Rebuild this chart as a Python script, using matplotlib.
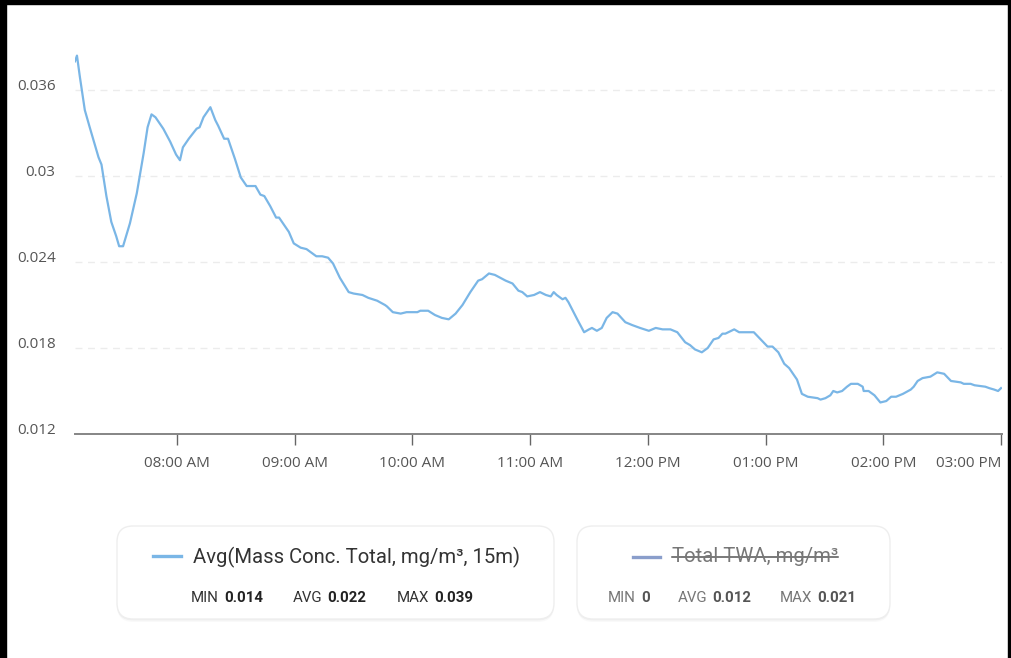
import matplotlib
matplotlib.use('Agg')
import matplotlib.pyplot as plt
import pandas as pd
from matplotlib.patches import FancyBboxPatch, Rectangle
from matplotlib.lines import Line2D
from matplotlib.transforms import IdentityTransform

# readings (time of day, mg/m3)
times = [
    '07:08:00', '07:09:00', '07:10:30', '07:13:00', '07:15:30', '07:20:00', '07:21:30', '07:24:00',
    '07:26:30', '07:29:00', '07:30:30', '07:32:30', '07:36:00', '07:39:30', '07:43:00', '07:45:00',
    '07:47:00', '07:49:00', '07:53:00', '07:56:30', '07:59:30', '08:01:30', '08:03:00', '08:06:00',
    '08:10:00', '08:11:30', '08:13:30', '08:17:00', '08:19:30', '08:21:00', '08:24:00', '08:26:00',
    '08:29:30', '08:32:30', '08:35:30', '08:40:00', '08:42:30', '08:44:30', '08:47:30', '08:50:30',
    '08:52:00', '08:57:00', '08:59:30', '09:03:00', '09:06:00', '09:11:00', '09:14:00', '09:17:00',
    '09:19:30', '09:23:00', '09:27:30', '09:30:00', '09:34:30', '09:37:30', '09:42:00', '09:46:00',
    '09:47:00', '09:50:00', '09:54:00', '09:57:00', '10:02:30', '10:04:00', '10:08:00', '10:11:30',
    '10:15:00', '10:18:30', '10:22:00', '10:25:30', '10:29:30', '10:33:30', '10:35:30', '10:39:00',
    '10:42:00', '10:47:30', '10:51:00', '10:54:00', '10:56:00', '10:58:30', '11:02:00', '11:05:00',
    '11:08:00', '11:10:30', '11:12:00', '11:13:30', '11:16:30', '11:18:00', '11:19:30', '11:24:00',
    '11:27:30', '11:30:00', '11:31:30', '11:34:00', '11:36:30', '11:39:00', '11:42:00', '11:44:30',
    '11:48:30', '11:52:00', '11:56:00', '12:00:30', '12:04:00', '12:07:30', '12:11:30', '12:15:00',
    '12:19:00', '12:21:30', '12:24:00', '12:27:30', '12:30:30', '12:33:30', '12:36:00', '12:38:00',
    '12:39:30', '12:44:00', '12:46:30', '12:54:00', '12:57:30', '13:01:00', '13:03:30', '13:06:30',
    '13:09:30', '13:12:00', '13:16:00', '13:18:30', '13:21:30', '13:26:30', '13:28:00', '13:30:30',
    '13:33:00', '13:34:30', '13:36:30', '13:39:00', '13:41:30', '13:43:30', '13:47:00', '13:49:30',
    '13:50:00', '13:52:30', '13:55:30', '13:58:30', '14:01:30', '14:04:00', '14:06:30', '14:10:00',
    '14:14:00', '14:15:30', '14:17:30', '14:20:00', '14:24:00', '14:27:30', '14:31:00', '14:34:30',
    '14:39:30', '14:41:00', '14:44:30', '14:46:30', '14:52:00', '14:54:00', '14:56:30', '14:58:30',
    '15:00:00',
]
mass_conc = [
    0.0380, 0.0384, 0.0369, 0.0346, 0.0334, 0.0313, 0.0308, 0.0286,
    0.0268, 0.0258, 0.0251, 0.0251, 0.0267, 0.0288, 0.0316, 0.0334,
    0.0343, 0.0341, 0.0333, 0.0324, 0.0315, 0.0311, 0.0320, 0.0326,
    0.0333, 0.0334, 0.0341, 0.0348, 0.0339, 0.0335, 0.0326, 0.0326,
    0.0312, 0.0299, 0.0293, 0.0293, 0.0287, 0.0286, 0.0279, 0.0271,
    0.0271, 0.0261, 0.0253, 0.0250, 0.0249, 0.0244, 0.0244, 0.0243,
    0.0239, 0.0229, 0.0219, 0.0218, 0.0217, 0.0215, 0.0213, 0.0210,
    0.0209, 0.0205, 0.0204, 0.0205, 0.0205, 0.0206, 0.0206, 0.0203,
    0.0201, 0.0200, 0.0204, 0.0210, 0.0219, 0.0227, 0.0228, 0.0232,
    0.0231, 0.0227, 0.0225, 0.0220, 0.0219, 0.0216, 0.0217, 0.0219,
    0.0217, 0.0216, 0.0219, 0.0217, 0.0214, 0.0215, 0.0212, 0.0200,
    0.0191, 0.0193, 0.0194, 0.0192, 0.0194, 0.0201, 0.0205, 0.0204,
    0.0198, 0.0196, 0.0194, 0.0192, 0.0194, 0.0193, 0.0193, 0.0191,
    0.0184, 0.0182, 0.0179, 0.0177, 0.0180, 0.0186, 0.0187, 0.0190,
    0.0190, 0.0193, 0.0191, 0.0191, 0.0186, 0.0181, 0.0181, 0.0177,
    0.0169, 0.0166, 0.0158, 0.0148, 0.0146, 0.0145, 0.0144, 0.0145,
    0.0147, 0.0150, 0.0149, 0.0150, 0.0153, 0.0155, 0.0155, 0.0153,
    0.0150, 0.0150, 0.0147, 0.0142, 0.0143, 0.0146, 0.0146, 0.0148,
    0.0151, 0.0153, 0.0157, 0.0159, 0.0160, 0.0163, 0.0162, 0.0157,
    0.0156, 0.0155, 0.0155, 0.0154, 0.0153, 0.0152, 0.0151, 0.0150,
    0.0152,
]

x_ticks = ['08:00', '09:00', '10:00', '11:00', '12:00', '13:00', '14:00', '15:00']
x_tick_labels = ['08:00 AM', '09:00 AM', '10:00 AM', '11:00 AM', '12:00 PM', '01:00 PM', '02:00 PM', '03:00 PM']
y_ticks = [0.012, 0.018, 0.024, 0.030, 0.036]
y_tick_labels = ['0.012', '0.018', '0.024', '0.03', '0.036']

series_names = ['Avg(Mass Conc. Total, mg/m³, 15m)', 'Total TWA, mg/m³']
stat_names = ['MIN', 'AVG', 'MAX']
stats_avg = ['0.014', '0.022', '0.039']
stats_twa = ['0', '0.012', '0.021']

day = '2024-01-01 '
t = pd.to_datetime([day + s for s in times])

W, H = 1012, 658
fig = plt.figure(figsize=(W / 100, H / 100), dpi=100)
fig.patch.set_facecolor('white')

ax = fig.add_axes([75 / W, 1 - 434 / H, 927 / W, 394 / H])
ax.plot(t, mass_conc, color='#7ab6e6', lw=1.6, solid_joinstyle='round', zorder=3)
ax.set_xlim(pd.Timestamp(day + '07:08:00'), pd.Timestamp(day + '15:00:30'))
ax.set_ylim(0.012, 0.012 + 394 / 86 * 0.006)

for s in ['top', 'right', 'left']:
    ax.spines[s].set_visible(False)
ax.spines['bottom'].set_color('#858585')
ax.spines['bottom'].set_linewidth(1.4)

ax.set_yticks(y_ticks)
ax.set_yticklabels(y_tick_labels)
ax.tick_params(axis='y', length=0, pad=14, labelsize=11, labelcolor='#555555')
for lbl in ax.get_yticklabels():
    lbl.set_va('baseline')
    lbl.set_fontfamily('Open Sans')
ax.yaxis.grid(True, color='#ececec', linestyle=(0, (5, 4)), lw=1)

ax.set_xticks(pd.to_datetime([day + s for s in x_ticks]))
ax.set_xticklabels(x_tick_labels)
ax.tick_params(axis='x', length=8, width=1, color='#666666', pad=7.5, labelsize=11, labelcolor='#555555')
for lbl in ax.get_xticklabels():
    lbl.set_fontfamily('Open Sans')
ax.get_xticklabels()[-1].set_ha('right')


def fx(x):
    return x / W


def fy(y):
    return 1 - y / H


# legend cards
def card(x0, y0, x1, y1):
    for off, a in [(3, 0.025), (1.5, 0.035)]:
        sh = FancyBboxPatch((x0, H - y1 - off), x1 - x0, y1 - y0,
                            boxstyle='round,pad=0,rounding_size=16',
                            transform=IdentityTransform(), fc='black', ec='none', alpha=a)
        fig.add_artist(sh)
    b = FancyBboxPatch((x0, H - y1), x1 - x0, y1 - y0,
                       boxstyle='round,pad=0,rounding_size=16',
                       transform=IdentityTransform(), fc='white', ec='#eeeeee', lw=1)
    fig.add_artist(b)


card(117, 526, 554, 619)
card(577, 526, 890, 619)

lf = 'Roboto'
fig.add_artist(Line2D([fx(153), fx(181)], [fy(556), fy(556)], color='#7ab6e6', lw=2.4,
                      transform=fig.transFigure))
fig.text(fx(193), fy(557), series_names[0], fontsize=14.6, color='#333333', family=lf,
         va='center', ha='left')

fig.add_artist(Line2D([fx(633), fx(660)], [fy(557), fy(557)], color='#8a9ecb', lw=2.4,
                      transform=fig.transFigure))
t2 = fig.text(fx(672), fy(557), series_names[1], fontsize=14.6, color='#777777', family=lf,
              va='center', ha='left')

label_x1 = [191, 293, 397]
label_x2 = [608, 678, 780]
fig.canvas.draw()
r = fig.canvas.get_renderer()


def stat_row(xs, vals, lc, vc, y):
    for x, n, v in zip(xs, stat_names, vals):
        tl = fig.text(fx(x), fy(y), n, fontsize=10.8, color=lc, family=lf, va='center', ha='left')
        bb = tl.get_window_extent(r)
        fig.text(fx(bb.x1 + 5), fy(y), v, fontsize=10.8, color=vc, family=lf,
                 fontweight='bold', va='center', ha='left')


stat_row(label_x1, stats_avg, '#333333', '#222222', 598)
stat_row(label_x2, stats_twa, '#777777', '#555555', 598)

# strike-through of the hidden series name
bb = t2.get_window_extent(r)
fig.add_artist(Line2D([fx(bb.x0), fx(bb.x1)], [fy(557), fy(557)], color='#555555', lw=1.1,
                      transform=fig.transFigure))

# black frame edges
fig.add_artist(Rectangle((0, fy(4)), 1, 4 / H, transform=fig.transFigure, color='black'))
fig.add_artist(Rectangle((0, 0), 6 / W, 1, transform=fig.transFigure, color='black'))
fig.add_artist(Rectangle((fx(1008), 0), 4 / W, 1, transform=fig.transFigure, color='black'))

fig.savefig('out.png', dpi=100, facecolor='white')
